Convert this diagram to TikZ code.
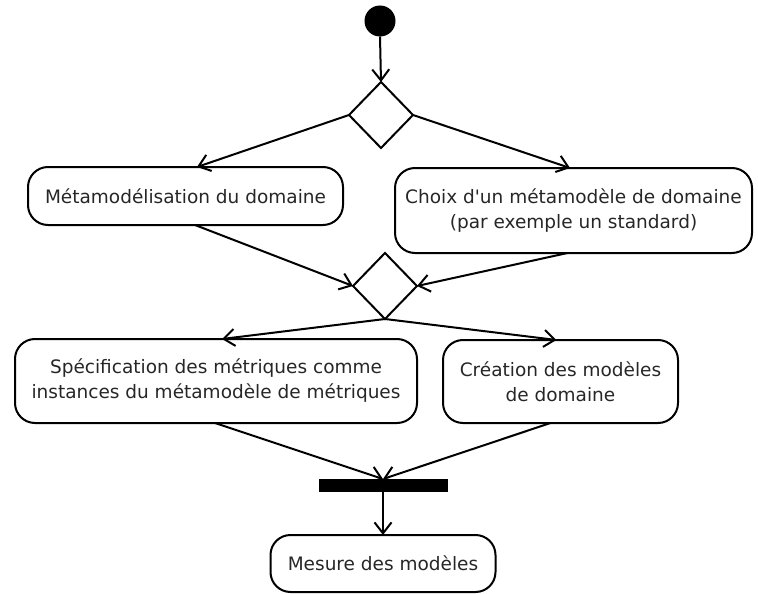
\documentclass[tikz,border=0pt]{standalone}
\usepackage{fontspec}
\setmainfont{DejaVu Sans}[Ligatures=TeXOff]
\usetikzlibrary{shapes.geometric,arrows.meta,calc}
\begin{document}
\begin{tikzpicture}[x=1pt,y=-1pt,
  every node/.style={outer sep=0pt},
  act/.style={draw, line width=2pt, rounded corners=20pt, align=center, inner sep=0pt,
    font=\fontsize{18.5}{25}\selectfont, text=black!85},
  dec/.style={draw, line width=2pt, shape=diamond, minimum width=64pt, minimum height=66pt, inner sep=0pt},
  flow/.style={line width=2pt, -{Straight Barb[length=11pt,width=17pt,line width=2pt]}}
]
\useasboundingbox (0,0) rectangle (758,594);
\node[circle, fill=black, minimum size=31pt, inner sep=0pt] (start) at (380,21) {};
\node[dec] (d1) at (381,115) {};
\node[act, minimum width=315pt, minimum height=58pt] (b1) at (185.5,196) {Métamodélisation du domaine};
\node[act, minimum width=357pt, minimum height=85pt] (b2) at (573.5,210.5) {Choix d'un métamodèle de domaine\\(par exemple un standard)};
\node[dec] (d2) at (385,286) {};
\node[act, minimum width=402pt, minimum height=84pt] (b3) at (216,381) {Spécification des métriques comme\\instances du métamodèle de métriques};
\node[act, minimum width=235pt, minimum height=83pt] (b4) at (560.5,381.5) {Création des modèles\\de domaine};
\node[fill=black, minimum width=129pt, minimum height=13pt, inner sep=0pt] (bar) at (383,485.5) {};
\node[act, minimum width=225pt, minimum height=57pt] (b5) at (383,563.5) {Mesure des modèles};

\draw[flow] (start.south) -- (d1.north);
\draw[flow] (d1.west) -- ($(b1.north)+(11.5,0)$);
\draw[flow] (d1.east) -- ($(b2.north)+(-3.5,0)$);
\draw[flow] ($(b1.south)+(9.5,0)$) -- (d2.west);
\draw[flow] ($(b2.south)+(-6,0)$) -- (d2.east);
\draw[flow] (d2.south) -- ($(b3.north)+(6,0)$);
\draw[flow] (d2.south) -- ($(b4.north)+(-4,0)$);
\draw[flow] ($(b3.south)+(-1,0)$) -- (bar.north);
\draw[flow] ($(b4.south)+(-10,0)$) -- (bar.north);
\draw[flow] (bar.south) -- (b5.north);
\end{tikzpicture}
\end{document}
